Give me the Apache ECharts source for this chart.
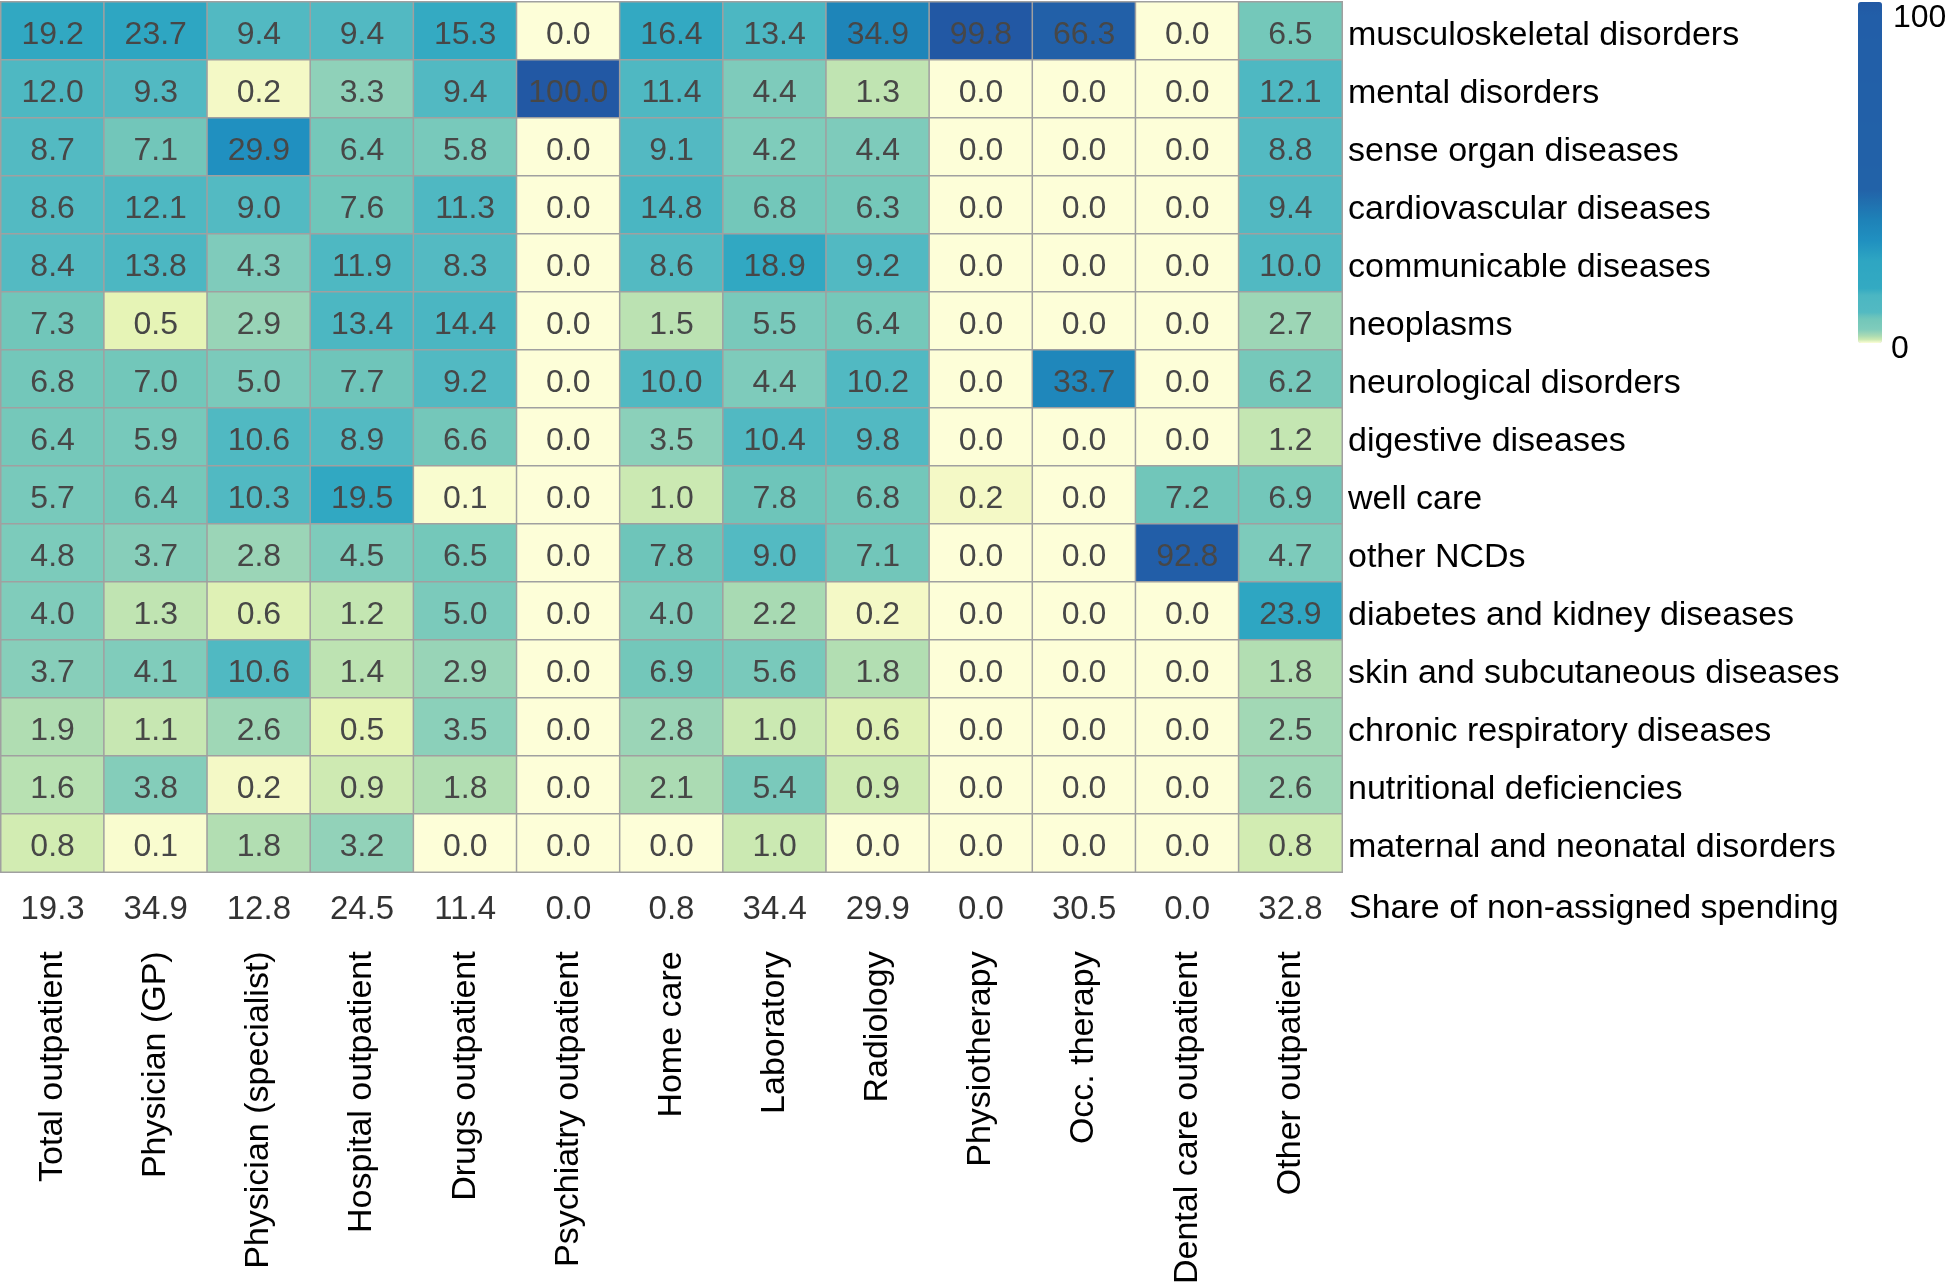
<!DOCTYPE html>
<html>
<head>
<meta charset="utf-8">
<script src="https://cdn.jsdelivr.net/npm/echarts@6/dist/echarts.min.js"></script>
<style>
html,body{margin:0;padding:0;background:#fff;}
#chart{width:1946px;height:1287px;}
</style>
</head>
<body>
<div id="chart"></div>
<script>
// ---- categories ----
const columns = ['Total outpatient','Physician (GP)','Physician (specialist)','Hospital outpatient','Drugs outpatient','Psychiatry outpatient','Home care','Laboratory','Radiology','Physiotherapy','Occ. therapy','Dental care outpatient','Other outpatient'];
const conditions = ['musculoskeletal disorders','mental disorders','sense organ diseases','cardiovascular diseases','communicable diseases','neoplasms','neurological disorders','digestive diseases','well care','other NCDs','diabetes and kidney diseases','skin and subcutaneous diseases','chronic respiratory diseases','nutritional deficiencies','maternal and neonatal disorders'];
const shareLabel = ['Share of non-assigned spending'];

// ---- values (one array per condition, in column order) ----
const musculoskeletal = [19.2, 23.7, 9.4, 9.4, 15.3, 0.0, 16.4, 13.4, 34.9, 99.8, 66.3, 0.0, 6.5];
const mental          = [12.0, 9.3, 0.2, 3.3, 9.4, 100.0, 11.4, 4.4, 1.3, 0.0, 0.0, 0.0, 12.1];
const senseOrgan      = [8.7, 7.1, 29.9, 6.4, 5.8, 0.0, 9.1, 4.2, 4.4, 0.0, 0.0, 0.0, 8.8];
const cardiovascular  = [8.6, 12.1, 9.0, 7.6, 11.3, 0.0, 14.8, 6.8, 6.3, 0.0, 0.0, 0.0, 9.4];
const communicable    = [8.4, 13.8, 4.3, 11.9, 8.3, 0.0, 8.6, 18.9, 9.2, 0.0, 0.0, 0.0, 10.0];
const neoplasms       = [7.3, 0.5, 2.9, 13.4, 14.4, 0.0, 1.5, 5.5, 6.4, 0.0, 0.0, 0.0, 2.7];
const neurological    = [6.8, 7.0, 5.0, 7.7, 9.2, 0.0, 10.0, 4.4, 10.2, 0.0, 33.7, 0.0, 6.2];
const digestive       = [6.4, 5.9, 10.6, 8.9, 6.6, 0.0, 3.5, 10.4, 9.8, 0.0, 0.0, 0.0, 1.2];
const wellCare        = [5.7, 6.4, 10.3, 19.5, 0.1, 0.0, 1.0, 7.8, 6.8, 0.2, 0.0, 7.2, 6.9];
const otherNCDs       = [4.8, 3.7, 2.8, 4.5, 6.5, 0.0, 7.8, 9.0, 7.1, 0.0, 0.0, 92.8, 4.7];
const diabetesKidney  = [4.0, 1.3, 0.6, 1.2, 5.0, 0.0, 4.0, 2.2, 0.2, 0.0, 0.0, 0.0, 23.9];
const skin            = [3.7, 4.1, 10.6, 1.4, 2.9, 0.0, 6.9, 5.6, 1.8, 0.0, 0.0, 0.0, 1.8];
const chronicResp     = [1.9, 1.1, 2.6, 0.5, 3.5, 0.0, 2.8, 1.0, 0.6, 0.0, 0.0, 0.0, 2.5];
const nutritional     = [1.6, 3.8, 0.2, 0.9, 1.8, 0.0, 2.1, 5.4, 0.9, 0.0, 0.0, 0.0, 2.6];
const maternal        = [0.8, 0.1, 1.8, 3.2, 0.0, 0.0, 0.0, 1.0, 0.0, 0.0, 0.0, 0.0, 0.8];
const shareNonAssigned = [19.3, 34.9, 12.8, 24.5, 11.4, 0.0, 0.8, 34.4, 29.9, 0.0, 30.5, 0.0, 32.8];

const rowsValues = [musculoskeletal, mental, senseOrgan, cardiovascular, communicable, neoplasms,
  neurological, digestive, wellCare, otherNCDs, diabetesKidney, skin, chronicResp, nutritional, maternal];

// ---- colour scale stops (value -> colour), non-linear YlGnBu-like ----
const colorStops = [
  [0, '#fdfed8'], [0.25, '#f2f8c2'], [0.5, '#e6f4b6'], [0.8, '#d2ecb2'], [1.3, '#c0e4b2'],
  [2.0, '#addcb2'], [3.0, '#96d3b8'], [4.0, '#80ccbb'], [7.9, '#6ec5ba'], [8.2, '#54bac2'],
  [14.8, '#4ab6c2'], [15.2, '#34aac2'], [24, '#2ea6c2'], [30, '#2090c0'], [36, '#1e82b8'],
  [45, '#2262a8'], [96, '#225ea8'], [100, '#2258a4']
];
function hex2rgb(h){return [parseInt(h.slice(1,3),16),parseInt(h.slice(3,5),16),parseInt(h.slice(5,7),16)];}
function colorAt(v){
  for (let i=1;i<colorStops.length;i++){
    if (v<=colorStops[i][0]){
      const [v0,c0]=colorStops[i-1],[v1,c1]=colorStops[i];
      const t=(v-v0)/(v1-v0), a=hex2rgb(c0), b=hex2rgb(c1);
      return 'rgb('+a.map((x,k)=>Math.round(x+(b[k]-x)*t)).join(',')+')';
    }
  }
  return colorStops[colorStops.length-1][1];
}
const colorList=[];
for (let i=0;i<=1000;i++) colorList.push(colorAt(i/10));

// ---- build data ----
const heatData=[];
rowsValues.forEach((arr,r)=>arr.forEach((v,c)=>heatData.push([c,r,v])));
const shareData=shareNonAssigned.map((v,c)=>[c,0,v]);

const chart=echarts.init(document.getElementById('chart'),null,{renderer:'canvas'});
const baseFont='"Liberation Sans", Arial, Helvetica, sans-serif';

chart.setOption({
  animation:false,
  backgroundColor:'#ffffff',
  grid:[
    {left:1, top:2, width:1341, height:870},
    {left:1, top:884, width:1341, height:56}
  ],
  xAxis:[
    {type:'category', gridIndex:0, data:columns, axisLine:{show:false}, axisTick:{show:false}, axisLabel:{show:false}, splitLine:{show:false}},
    {type:'category', gridIndex:1, data:columns, position:'bottom', axisLine:{show:false}, axisTick:{show:false}, splitLine:{show:false},
     axisLabel:{rotate:90, margin:22, fontSize:34, color:'#000', fontFamily:baseFont, interval:0}}
  ],
  yAxis:[
    {type:'category', gridIndex:0, data:conditions, inverse:true, position:'right', axisLine:{show:false}, axisTick:{show:false}, splitLine:{show:false},
     axisLabel:{margin:6, color:'#000', align:'left',
       formatter:v=>'{t|'+v+'}',
       rich:{t:{fontSize:34, color:'#000', fontFamily:baseFont, padding:[10,0,0,0]}}}},
    {type:'category', gridIndex:1, data:shareLabel, position:'right', axisLine:{show:false}, axisTick:{show:false}, splitLine:{show:false},
     axisLabel:{margin:7, color:'#000', align:'left',
       formatter:v=>'{t|'+v+'}',
       rich:{t:{fontSize:34, color:'#000', fontFamily:baseFont, padding:[4,0,0,0]}}}}
  ],
  visualMap:{
    type:'continuous', min:0, max:100, seriesIndex:0, calculable:false,
    orient:'vertical', left:1858, top:2, itemWidth:24, itemHeight:341, padding:0,
    inRange:{color:colorList}, hoverLink:false
  },
  graphic:[
    {type:'text', left:1893, top:2, style:{text:'100', fontSize:32, fontFamily:baseFont, fill:'#000'}},
    {type:'text', left:1891, top:333, style:{text:'0', fontSize:32, fontFamily:baseFont, fill:'#000'}}
  ],
  series:[
    {type:'heatmap', xAxisIndex:0, yAxisIndex:0, data:heatData,
     itemStyle:{borderColor:'#a0a0a0', borderWidth:1.5},
     label:{show:true, fontSize:32, color:'#474747', fontFamily:baseFont, offset:[0,4], formatter:p=>p.value[2].toFixed(1)},
     emphasis:{disabled:true}},
    {type:'scatter', xAxisIndex:1, yAxisIndex:1, data:shareData, symbolSize:1,
     itemStyle:{color:'rgba(0,0,0,0)'},
     label:{show:true, position:'inside', fontSize:33, color:'#000', fontFamily:baseFont, offset:[0,3], formatter:p=>p.value[2].toFixed(1)},
     emphasis:{disabled:true}}
  ]
});
</script>
</body>
</html>
